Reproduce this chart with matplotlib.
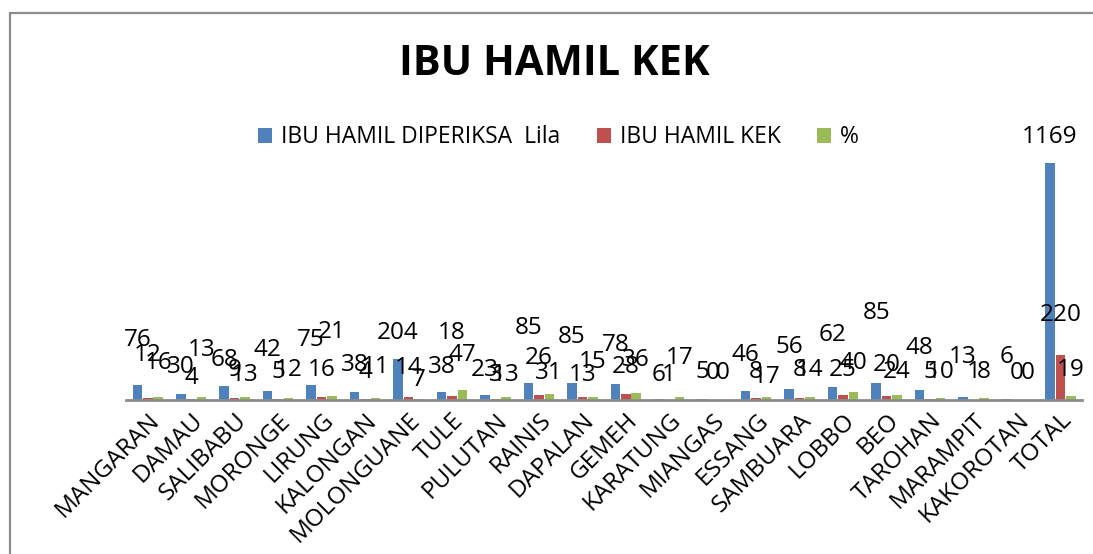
import numpy as np
import matplotlib
matplotlib.use('Agg')
from matplotlib import pyplot as plt
from matplotlib.patches import Rectangle

plt.rcParams['font.family'] = ['Open Sans', 'DejaVu Sans']

desa = ['MANGARAN', 'DAMAU', 'SALIBABU', 'MORONGE', 'LIRUNG', 'KALONGAN',
        'MOLONGUANE', 'TULE', 'PULUTAN', 'RAINIS', 'DAPALAN', 'GEMEH',
        'KARATUNG', 'MIANGAS', 'ESSANG', 'SAMBUARA', 'LOBBO', 'BEO',
        'TAROHAN', 'MARAMPIT', 'KAKOROTAN', 'TOTAL']
diperiksa = [76, 30, 68, 42, 75, 38, 204, 38, 23, 85, 85, 78, 6, 5, 46, 56, 62, 85, 48, 13, 6, 1169]
kek = [12, 4, 9, 5, 16, 4, 14, 18, 3, 26, 13, 28, 1, 0, 8, 8, 25, 20, 5, 1, 0, 220]
persen = [16, 13, 13, 12, 21, 11, 7, 47, 13, 31, 15, 36, 17, 0, 17, 14, 40, 24, 10, 8, 0, 19]

# tinggi label angka di atas garis sumbu (px), seperti di gambar asli
lbl_biru = [60, 33, 40, 50, 60, 35, 67, 33, 30, 72, 63, 55, 25, 28, 45, 53, 65, 87, 52, 43, 43, 263]
lbl_merah = [45, 22, 30, 28, 30, 28, 32, 67, 25, 42, 25, 33, 25, 27, 28, 30, 30, 35, 28, 28, 27, 85]
lbl_hijau = [37, 50, 25, 30, 68, 33, 20, 45, 25, 27, 38, 40, 42, 27, 23, 30, 37, 28, 28, 28, 27, 30]

series = [('IBU HAMIL DIPERIKSA  Lila', diperiksa, '#4F81BD', lbl_biru),
          ('IBU HAMIL KEK', kek, '#C0504D', lbl_merah),
          ('%', persen, '#9BBB59', lbl_hijau)]

fig = plt.figure(figsize=(10.93, 5.54), dpi=100)
ax = fig.add_axes([0.1153, 0.278, 0.8747, 0.5415])

x = np.arange(len(desa))
w = 0.22
for i, (nama, vals, warna, lbl) in enumerate(series):
    pos = x + (i - 1) * 0.24
    ax.bar(pos, vals, w, color=warna, label=nama)
    for p, v, h in zip(pos, vals, lbl):
        ax.annotate(str(v), (p, 0), xytext=(0, h * 0.72), textcoords='offset points',
                    ha='center', va='center', fontsize=17.5)

ax.set_xlim(-0.5, len(desa) - 0.5)
ax.set_ylim(0, 1480)
for s in ['top', 'right', 'left']:
    ax.spines[s].set_visible(False)
ax.spines['bottom'].set_color('#8c8c8c')
ax.spines['bottom'].set_linewidth(2)
ax.set_yticks([])
ax.set_xticks(x)
ax.set_xticklabels(desa, rotation=45, ha='right', rotation_mode='anchor', fontsize=17.5)
ax.tick_params(axis='x', length=0, pad=6)

fig.text(0.507, 0.883, 'IBU HAMIL KEK', ha='center', va='center',
         fontsize=30, fontweight='bold')
fig.legend(loc='center', bbox_to_anchor=(0.511, 0.752), ncol=3, frameon=False,
           fontsize=16.5, handlelength=0.6, handleheight=0.6, handletextpad=0.4,
           columnspacing=1.6)

fig.add_artist(Rectangle((0.009, -0.1), 1.2, 0.9765 + 0.1, transform=fig.transFigure,
                         fill=False, ec='#8c8c8c', lw=1.6))

fig.savefig('out.png', dpi=100)
